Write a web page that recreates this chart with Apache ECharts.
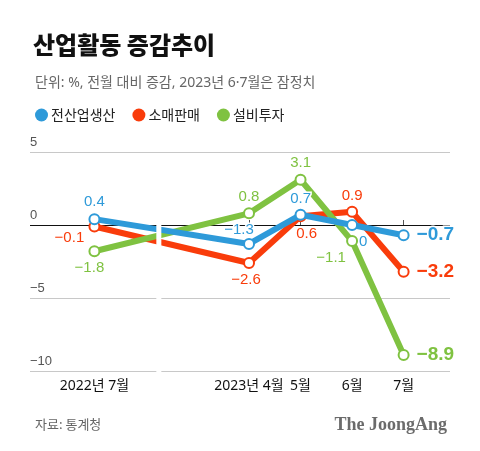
<!DOCTYPE html>
<html>
<head>
<meta charset="utf-8">
<script src="https://cdn.jsdelivr.net/npm/echarts@6/dist/echarts.min.js"></script>
<style>
html,body{margin:0;padding:0;background:#fff;}
#chart{width:480px;height:451px;}
</style>
</head>
<body>
<div id="chart"></div>
<script>
// ---- data ----
var categories = ['2022년 7월', '2023년 4월', '5월', '6월', '7월'];
var slots = [0, 3, 4, 5, 6]; // ordinal slot of each category (gap of skipped months)
var seriesNames = ['전산업생산', '소매판매', '설비투자'];
var production = [0.4, -1.3, 0.7, 0, -0.7];
var retail = [-0.1, -2.6, 0.6, 0.9, -3.2];
var investment = [-1.8, 0.8, 3.1, -1.1, -8.9];
var yTicks = [-10, -5, 0, 5];

// ---- styles ----
var colors = ['#2e9ad9', '#f93c0b', '#7fc241'];
var labelOffsets = [
  [[0, -17], [-10, -14], [0, -16], [11, 17], null],
  [[-25, 11], [-3, 17], [6, 18], [0, -16], null],
  [[-5, 17], [0, -16], [0, -17], [-21, 17], null]
];
var breakSlot = 1.25;

function fmt(v) {
  if (v < 0) return '\u2212' + Math.abs(v);
  return String(v);
}

function buildData(values, sIdx) {
  return values.map(function (v, i) {
    var off = labelOffsets[sIdx][i];
    var label;
    if (off) {
      label = { position: 'inside', offset: off, fontSize: 15 };
    } else {
      label = { position: 'right', distance: 7, fontSize: 19, fontWeight: 'bold' };
    }
    return { value: [slots[i], v], label: label };
  });
}

var allValues = [production, retail, investment];
var zs = [5, 3, 4];
var series = allValues.map(function (vals, s) {
  return {
    name: seriesNames[s],
    type: 'line',
    z: zs[s],
    data: buildData(vals, s),
    symbol: 'circle',
    symbolSize: 10,
    showAllSymbol: true,
    lineStyle: { color: colors[s], width: 6 },
    itemStyle: { color: '#fff', borderColor: colors[s], borderWidth: 2 },
    label: {
      show: true,
      color: colors[s],
      fontFamily: "'Liberation Sans', 'Noto Sans CJK KR', sans-serif",
      textBorderColor: '#fff',
      textBorderWidth: 3,
      formatter: function (p) { return fmt(p.value[1]); }
    },
    emphasis: { disabled: true }
  };
});

// axis break marker (white band)
series.push({
  type: 'custom',
  z: 20,
  silent: true,
  clip: false,
  data: [[breakSlot]],
  renderItem: function (params, api) {
    var top = api.coord([api.value(0), 4]);
    var bot = api.coord([api.value(0), -10.6]);
    return {
      type: 'rect',
      shape: { x: top[0] - 2.5, y: top[1], width: 5, height: bot[1] - top[1] },
      style: { fill: '#fff' }
    };
  }
});

var chart = echarts.init(document.getElementById('chart'), null, { renderer: 'canvas' });
chart.setOption({
  animation: false,
  backgroundColor: '#fff',
  title: [
    {
      text: '산업활동 증감추이', left: 28, top: 28,
      textStyle: { fontFamily: "'Noto Sans CJK KR'", fontSize: 24, fontWeight: 900, color: '#111' }
    },
    {
      text: '단위: %, 전월 대비 증감, 2023년 6·7월은 잠정치', left: 30, top: 71,
      textStyle: { fontFamily: "'Noto Sans', 'Noto Sans CJK KR'", fontSize: 14, fontWeight: 'normal', color: '#666' }
    },
    {
      text: '자료: 통계청', left: 30, top: 413,
      textStyle: { fontFamily: "'Noto Sans CJK KR'", fontSize: 13, fontWeight: 'normal', color: '#666' }
    },
    {
      text: 'The JoongAng', right: 28, top: 411,
      textStyle: { fontFamily: "'Liberation Serif', 'DejaVu Serif', serif", fontSize: 18, fontWeight: 'bold', color: '#6b6b6b' }
    }
  ],
  legend: {
    left: 30, top: 103,
    icon: 'circle',
    itemWidth: 13, itemHeight: 13,
    itemGap: 17,
    selectedMode: false,
    textStyle: { fontFamily: "'Noto Sans CJK KR'", fontSize: 14, color: '#222', padding: [0, 0, 0, -2] },
    data: seriesNames.map(function (n, i) {
      return { name: n, itemStyle: { color: colors[i], borderWidth: 0 } };
    })
  },
  grid: { left: 30, right: 30, top: 152, bottom: 80, containLabel: false },
  xAxis: {
    type: 'value',
    min: -1.25,
    max: 6.9,
    splitLine: { show: false },
    axisLine: { show: false },
    axisTick: {
      show: true, inside: true, length: 5,
      customValues: slots,
      lineStyle: { color: '#555' }
    },
    axisLabel: {
      show: true,
      customValues: slots,
      margin: 8,
      fontFamily: "'Noto Sans', 'Noto Sans CJK KR'",
      fontSize: 14,
      color: '#111',
      formatter: function (v) {
        var i = slots.indexOf(v);
        return i >= 0 ? categories[i] : '';
      }
    }
  },
  yAxis: {
    type: 'value',
    min: yTicks[0],
    max: yTicks[yTicks.length - 1],
    interval: 5,
    axisLine: { show: false },
    axisTick: { show: false },
    axisLabel: {
      inside: true,
      margin: 0,
      align: 'left',
      verticalAlign: 'bottom',
      padding: [0, 0, 3, 0],
      fontFamily: "'Liberation Sans', sans-serif",
      fontSize: 13,
      color: '#555',
      formatter: function (v) { return fmt(v); }
    },
    splitLine: {
      show: true,
      lineStyle: { color: ['#c8c8c8', '#c8c8c8', '#111', '#c8c8c8'], width: 1 }
    }
  },
  series: series
});
</script>
</body>
</html>
